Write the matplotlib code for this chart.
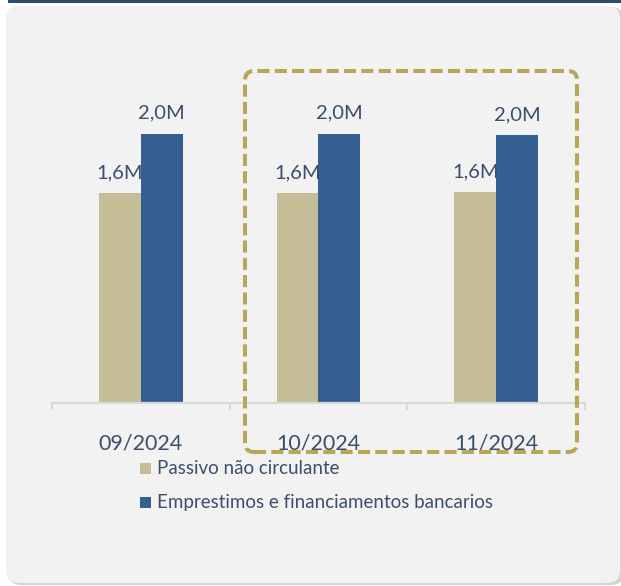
import matplotlib.pyplot as plt
from matplotlib.patches import FancyBboxPatch, Rectangle

plt.rcParams['font.family'] = ['Lato', 'DejaVu Sans']

# Data
months = ['09/2024', '10/2024', '11/2024']
passivo = [1.56, 1.56, 1.565]
emprestimos = [2.0, 2.0, 1.99]
series_names = ['Passivo não circulante', 'Emprestimos e financiamentos bancarios']
labels_passivo = ['1,6M', '1,6M', '1,6M']
labels_emprestimos = ['2,0M', '2,0M', '2,0M']

tan = '#c4bd97'
blue = '#355f91'
text_col = '#3b4f6c'
grid_col = '#d9d9d9'

fig = plt.figure(figsize=(6.21, 5.86), dpi=100)
fig.patch.set_facecolor('white')

# panel background with a soft shadow
shadow = FancyBboxPatch((0.08, 0.01), 6.16, 5.78, boxstyle='round,pad=0,rounding_size=0.13',
                        transform=fig.dpi_scale_trans, facecolor='#d4d4d4', edgecolor='none', zorder=0)
panel = FancyBboxPatch((0.06, 0.03), 6.14, 5.77, boxstyle='round,pad=0,rounding_size=0.13',
                       transform=fig.dpi_scale_trans, facecolor='#f2f2f2', edgecolor='none', zorder=0)
fig.add_artist(shadow)
fig.add_artist(panel)
fig.add_artist(Rectangle((0.08, 5.83), 6.13, 0.035, transform=fig.dpi_scale_trans,
                         facecolor='#2d4b70', edgecolor='none', zorder=1))

W, H = 621, 586
ax = fig.add_axes([52 / W, (H - 403) / H, 533 / W, 343 / H])
ax.set_facecolor('none')

x = range(len(months))
bw = 0.236
b1 = ax.bar([i - bw / 2 for i in x], passivo, bw, color=tan, zorder=2)
b2 = ax.bar([i + bw / 2 for i in x], emprestimos, bw, color=blue, zorder=2)

for rect, lab in zip(b1, labels_passivo):
    ax.annotate(lab, (rect.get_x() + rect.get_width() / 2, rect.get_height()),
                xytext=(0, 11), textcoords='offset points', ha='center', va='baseline',
                fontsize=14.5, color=text_col)
for rect, lab in zip(b2, labels_emprestimos):
    ax.annotate(lab, (rect.get_x() + rect.get_width() / 2, rect.get_height()),
                xytext=(0, 11), textcoords='offset points', ha='center', va='baseline',
                fontsize=14.5, color=text_col)

ax.set_xlim(-0.5, 2.5)
ax.set_ylim(0, 2.55)
for s in ['top', 'right', 'left']:
    ax.spines[s].set_visible(False)
ax.spines['bottom'].set_color(grid_col)
ax.spines['bottom'].set_linewidth(1.6)
ax.set_yticks([])
ax.set_xticks([])
ax.set_xticks([-0.5, 0.5, 1.5, 2.5], minor=True)
ax.tick_params(axis='x', which='minor', direction='out', length=5, width=1.6, color=grid_col,
               labelbottom=False)

for i, m in enumerate(months):
    ax.text(i, -46 / 343, m, transform=ax.get_xaxis_transform(), ha='center', va='baseline',
            fontsize=15.5, color=text_col)

# dashed highlight around the last two months
box = FancyBboxPatch((2.45, 1.34), 3.32, 3.81, boxstyle='round,pad=0,rounding_size=0.09',
                     transform=fig.dpi_scale_trans, facecolor='none', edgecolor='#b7a758',
                     linewidth=2.9, linestyle=(0, (3, 1.3)), zorder=5)
fig.add_artist(box)

# legend
for k, (name, col) in enumerate(zip(series_names, [tan, blue])):
    yc = 468.5 + 34 * k
    fig.add_artist(Rectangle((1.40, (H - yc - 5.5) / 100), 0.11, 0.11,
                             transform=fig.dpi_scale_trans, facecolor=col, edgecolor='none'))
    fig.text(157 / W, (H - yc) / H, name, ha='left', va='center', fontsize=13.5, color=text_col)

fig.savefig('out.png', dpi=100, facecolor=fig.get_facecolor())
